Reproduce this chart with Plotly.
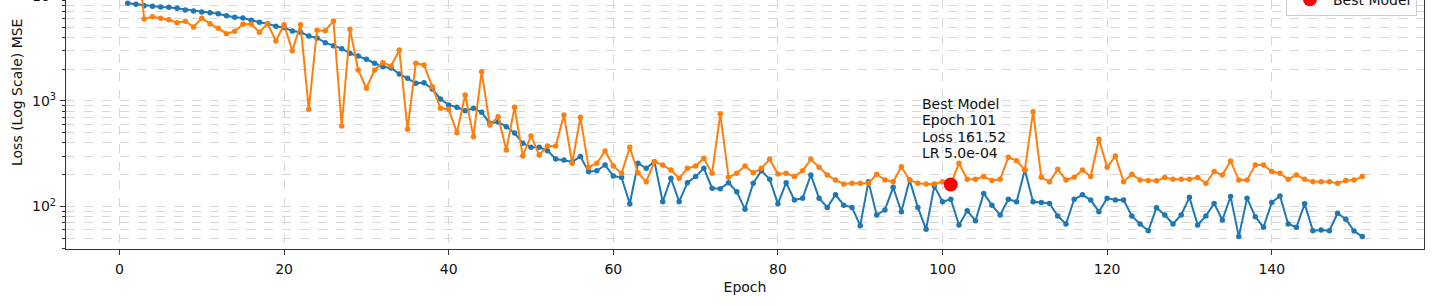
import math
import plotly.graph_objects as go

epochs = list(range(1, 152))

train_loss = [
    8433, 8254, 8005, 7901, 7780, 7727, 7561, 7288, 7129, 6977, 6871, 6722, 6434, 6215, 6120,
    5821, 5572, 5403, 5105, 4952, 4608, 4479, 4131, 3954, 3569,
    3342, 3131, 2831, 2670, 2484, 2277, 2114, 2055, 1803, 1641, 1472, 1491, 1299, 1045, 917,
    872, 809, 853, 781, 614, 632, 571, 497, 397, 364,
    364, 338, 282, 276, 266, 297, 214, 218, 247, 195, 188, 106, 257, 230, 266, 111, 185, 111,
    168, 192, 230, 149, 147, 168, 138, 94,
    166, 218, 181, 106, 168, 115, 120, 199, 120, 98, 129, 103, 98, 65.8, 172, 83, 92.7, 152,
    89.3, 178, 98, 60.8, 156, 111, 117, 66.8, 91.2, 73.3, 133, 103, 83, 117, 111, 222, 111, 109,
    107, 81.3, 68.3, 117, 129, 115, 89.3, 120, 115, 115, 81.3, 68.3, 59, 97.5, 83, 68.3, 83,
    122, 66.8, 81.3, 107, 74.5, 124, 51.8, 120, 80, 63.5, 109, 126, 68.3, 63.5, 106, 59, 59.9,
    59, 86.2, 75.7, 58.6, 51.8,
]

val_loss = [
    45000, 33000, 5986, 6295, 6081, 5896, 5521, 5695, 5027, 6081, 5403, 4887, 4345, 4578, 5333,
    5370, 4479, 5403, 3705, 5286, 2998, 5286, 834, 4677, 4638,
    5733, 579, 4781, 1967, 1319, 1967, 2307, 2147, 3044, 539, 2277, 2193, 1366, 853, 834,
    501, 1140, 459, 1896, 592, 710, 343, 872, 301, 466,
    308, 375, 375, 737, 257, 701, 235, 257, 336, 242, 206, 364, 209, 172, 266, 247, 222, 185,
    230, 242, 286, 206, 753, 189, 206, 242,
    209, 230, 280, 203, 206, 192, 218, 280, 235, 199, 178, 163.4, 166, 166, 166, 202, 178, 172,
    238, 178, 166, 163, 163, 172, 161.52, 257, 181, 181, 192, 176, 181, 293, 272, 222, 792, 189,
    172, 225, 178, 189, 222, 192, 434,
    235, 301, 172, 202, 178, 176, 175, 188, 181, 181, 181, 188, 166, 214, 199, 270, 178, 178,
    247, 247, 214, 206, 181, 199, 181, 172, 172, 172, 166, 176, 178, 192,
]

best_epoch = 101
best_loss = 161.52
best_lr = 5.0e-4

x_ticks = [0, 20, 40, 60, 80, 100, 120, 140]
y_ticks = [100, 1000, 10000]
y_ticktext = ["10<sup>2</sup>", "10<sup>3</sup>", "10<sup>4</sup>"]
y_minor = [m * 10 ** k for k in (1, 2, 3) for m in range(2, 10)]

FONT = "DejaVu Sans"
FS = 14
GRID = "#d6d6d6"
AX = "#333333"
TXT = "#111111"

Y_RANGE = [1.597, 3.957]

fig = go.Figure()
fig.add_trace(go.Scatter(
    x=epochs, y=train_loss, mode="lines+markers", name="Train Loss",
    line=dict(color="#1f77b4", width=2), marker=dict(size=5.5, color="#1f77b4"),
))
fig.add_trace(go.Scatter(
    x=epochs, y=val_loss, mode="lines+markers", name="Val Loss",
    line=dict(color="#ff7f0e", width=2), marker=dict(size=5.5, color="#ff7f0e"),
))
fig.add_trace(go.Scatter(
    x=[best_epoch], y=[best_loss], mode="markers", name="Best Model",
    marker=dict(size=14, color="red"),
))

# best-model note, one annotation per line (matplotlib-like line spacing)
note_lines = ["Best Model", f"Epoch {best_epoch}", f"Loss {best_loss:.2f}", f"LR {best_lr:.1e}"]
for i, line in enumerate(note_lines):
    fig.add_annotation(
        x=best_epoch, y=math.log10(best_loss), xref="x", yref="y",
        text=line, showarrow=False, xanchor="left", yanchor="middle", align="left",
        xshift=-31, yshift=80.5 - 16.3 * i, font=dict(family=FONT, size=FS, color=TXT),
    )

# y axis title (centred on the full matplotlib axis, which extends above the view)
fig.add_annotation(
    x=0, y=0.6265, xref="paper", yref="paper", xshift=-49,
    text="Loss (Log Scale) MSE", textangle=-90, showarrow=False,
    xanchor="center", yanchor="middle", font=dict(family=FONT, size=FS, color=TXT),
)
# the 10^4 tick label sits just above the visible top edge
top_frac = 1 + (math.log10(y_ticks[2]) - Y_RANGE[1]) / (Y_RANGE[1] - Y_RANGE[0])
fig.add_annotation(
    x=0, y=top_frac, xref="paper", yref="paper", xshift=-8,
    text=y_ticktext[2], showarrow=False, xanchor="right", yanchor="middle",
    font=dict(family=FONT, size=FS, color=TXT),
)

fig.update_layout(
    width=1435, height=306,
    margin=dict(l=66, r=11, t=0, b=57, autoexpand=False),
    plot_bgcolor="white", paper_bgcolor="white",
    font=dict(family=FONT, size=FS, color=TXT),
    showlegend=True,
    legend=dict(
        x=0.9948, xanchor="right", y=0.935, yanchor="bottom", itemwidth=36,
        bgcolor="rgba(255,255,255,0.85)", bordercolor="#cccccc", borderwidth=1,
        font=dict(family=FONT, size=FS, color=TXT),
    ),
    xaxis=dict(
        range=[-6.5, 158.5], tickvals=x_ticks, ticks="outside", ticklen=5, tickcolor=AX,
        showline=True, linecolor=AX, linewidth=1.3, mirror=False,
        showgrid=True, gridcolor=GRID, griddash="dash", zeroline=False,
        title=dict(text="Epoch", font=dict(family=FONT, size=FS), standoff=6),
        tickfont=dict(family=FONT, size=FS, color=TXT), ticklabelstandoff=2,
    ),
    yaxis=dict(
        type="log", range=Y_RANGE, tickvals=y_ticks, ticktext=y_ticktext,
        ticks="outside", ticklen=5, tickcolor=AX,
        showline=True, linecolor=AX, linewidth=1.3, mirror=True,
        showgrid=True, gridcolor=GRID, griddash="dash", zeroline=False,
        tickfont=dict(family=FONT, size=FS, color=TXT), ticklabelstandoff=1,
        minor=dict(tickvals=y_minor, ticks="outside", ticklen=2.5, tickcolor=AX,
                   showgrid=True, gridcolor=GRID, griddash="dash"),
    ),
)

fig.write_html(
    "out.html",
    config={"displayModeBar": False},
    post_script="document.body.style.margin='0';document.body.style.overflow='hidden';",
)
